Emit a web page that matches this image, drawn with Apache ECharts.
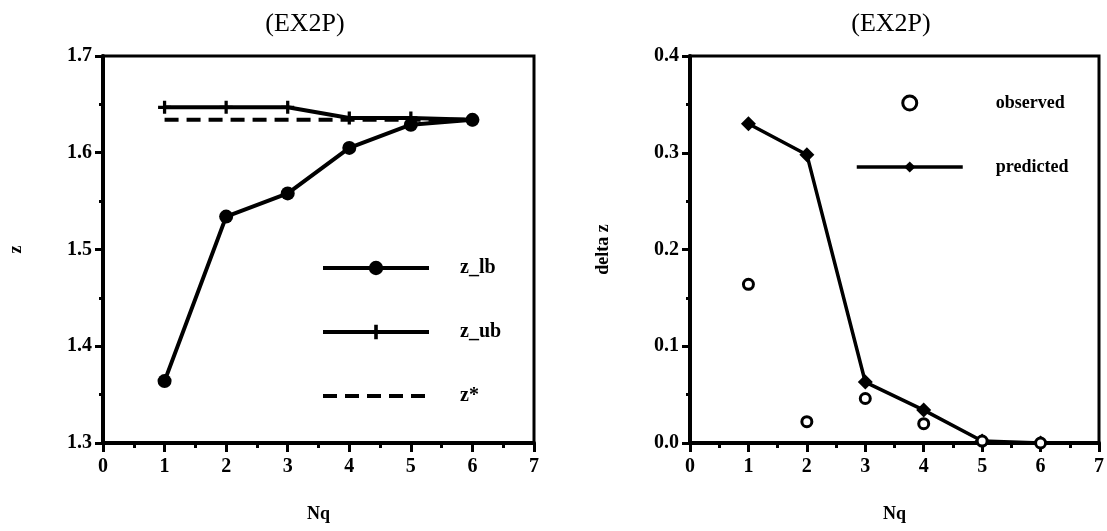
<!DOCTYPE html>
<html>
<head>
<meta charset="utf-8">
<script src="https://cdn.jsdelivr.net/npm/echarts@6/dist/echarts.min.js"></script>
<style>
  html, body { margin: 0; padding: 0; background: #fff; }
  #chart { width: 1107px; height: 531px; }
</style>
</head>
<body>
<div id="chart"></div>
<script>
// values
const nq = [1, 2, 3, 4, 5, 6]
const zLb = [1.364, 1.534, 1.558, 1.605, 1.629, 1.634]
const zUb = [1.647, 1.647, 1.647, 1.636, 1.636, 1.634]
const zStar = [1.634, 1.634, 1.634, 1.634, 1.634, 1.634]
const observed = [0.164, 0.022, 0.046, 0.020, 0.002, 0.000]
const predicted = [0.330, 0.298, 0.063, 0.034, 0.002, 0.000]
const titleText = '(EX2P)'

const SERIF = '"Liberation Serif", "DejaVu Serif", serif'
const INK = '#000'
const pairs = (ys) => nq.map((x, i) => [x, ys[i]])
const PLUS = 'path://M-1.5,-6 L1.5,-6 L1.5,-1.5 L6,-1.5 L6,1.5 L1.5,1.5 L1.5,6 L-1.5,6 L-1.5,1.5 L-6,1.5 L-6,-1.5 L-1.5,-1.5 Z'

const tickLabel = { color: INK, fontFamily: SERIF, fontWeight: 'bold', fontSize: 20 }
const axisName = { color: INK, fontFamily: SERIF, fontWeight: 'bold', fontSize: 18 }

const xAxisFor = (gridIndex) => ({
  gridIndex,
  type: 'value',
  min: 0,
  max: 7,
  interval: 1,
  name: 'Nq',
  nameLocation: 'middle',
  nameGap: 62,
  nameTextStyle: axisName,
  axisLine: { show: true, lineStyle: { color: INK, width: 4 } },
  axisTick: { show: true, inside: false, length: 9, lineStyle: { color: INK, width: 3 } },
  minorTick: { show: true, splitNumber: 2, length: 5, lineStyle: { color: INK, width: 3 } },
  axisLabel: { ...tickLabel, margin: 14 },
  splitLine: { show: false }
})

const yAxisFor = (gridIndex, min, max, name, digits) => ({
  gridIndex,
  type: 'value',
  min,
  max,
  interval: 0.1,
  name,
  nameLocation: 'middle',
  nameGap: 78,
  nameTextStyle: axisName,
  axisLine: { show: true, lineStyle: { color: INK, width: 4 } },
  axisTick: { show: true, length: 8, lineStyle: { color: INK, width: 3 } },
  minorTick: { show: true, splitNumber: 2, length: 4, lineStyle: { color: INK, width: 3 } },
  axisLabel: { ...tickLabel, margin: 11, formatter: (v) => v.toFixed(digits) },
  splitLine: { show: false }
})

const chart = echarts.init(document.getElementById('chart'))

chart.setOption({
  animation: false,
  backgroundColor: '#fff',
  title: [
    { text: titleText, left: 300, top: 6, textAlign: 'center',
      textStyle: { fontFamily: SERIF, fontWeight: 'normal', fontSize: 26, color: INK } },
    { text: titleText, left: 886, top: 6, textAlign: 'center',
      textStyle: { fontFamily: SERIF, fontWeight: 'normal', fontSize: 26, color: INK } }
  ],
  grid: [
    { left: 103, top: 56, width: 431, height: 387, show: true, borderColor: INK, borderWidth: 3 },
    { left: 690, top: 56, width: 415, height: 387, show: true, borderColor: INK, borderWidth: 3 }
  ],
  xAxis: [xAxisFor(0), xAxisFor(1)],
  yAxis: [yAxisFor(0, 1.3, 1.7, 'z', 1), yAxisFor(1, 0, 0.4, 'delta z', 1)],
  legend: [
    {
      data: ['z_lb', 'z_ub', { name: 'z*', itemStyle: { opacity: 0 } }],
      orient: 'vertical',
      left: 316,
      top: 253,
      itemWidth: 106,
      itemHeight: 18,
      itemGap: 44,
      lineStyle: { width: 4 },
      textStyle: { color: INK, fontFamily: SERIF, fontWeight: 'bold', fontSize: 20, padding: [0, 0, 0, 26] }
    },
    {
      data: [{ name: 'observed', itemStyle: { borderWidth: 3 } }, 'predicted'],
      orient: 'vertical',
      left: 850,
      top: 89,
      itemWidth: 106,
      itemHeight: 14,
      itemGap: 46,
      lineStyle: { width: 3.5 },
      textStyle: { color: INK, fontFamily: SERIF, fontWeight: 'bold', fontSize: 18, padding: [0, 0, 0, 28] }
    }
  ],
  series: [
    {
      name: 'z_lb', type: 'line', xAxisIndex: 0, yAxisIndex: 0,
      data: pairs(zLb), symbol: 'circle', symbolSize: 14,
      lineStyle: { color: INK, width: 4 }, itemStyle: { color: INK }, z: 4
    },
    {
      name: 'z_ub', type: 'line', xAxisIndex: 0, yAxisIndex: 0,
      data: pairs(zUb), symbol: PLUS, symbolSize: 13,
      lineStyle: { color: INK, width: 4 }, itemStyle: { color: INK }, z: 3
    },
    {
      name: 'z*', type: 'line', xAxisIndex: 0, yAxisIndex: 0,
      data: pairs(zStar), symbol: 'none',
      lineStyle: { color: INK, width: 4, type: [14, 8] }, itemStyle: { color: INK }, z: 2
    },
    {
      name: 'observed', type: 'scatter', xAxisIndex: 1, yAxisIndex: 1,
      data: pairs(observed), symbol: 'circle', symbolSize: 10,
      itemStyle: { color: '#fff', borderColor: INK, borderWidth: 3, opacity: 1 }, z: 5
    },
    {
      name: 'predicted', type: 'line', xAxisIndex: 1, yAxisIndex: 1,
      data: pairs(predicted), symbol: 'diamond', symbolSize: 15,
      lineStyle: { color: INK, width: 3.5 }, itemStyle: { color: INK }, z: 4
    }
  ]
})
</script>
</body>
</html>
